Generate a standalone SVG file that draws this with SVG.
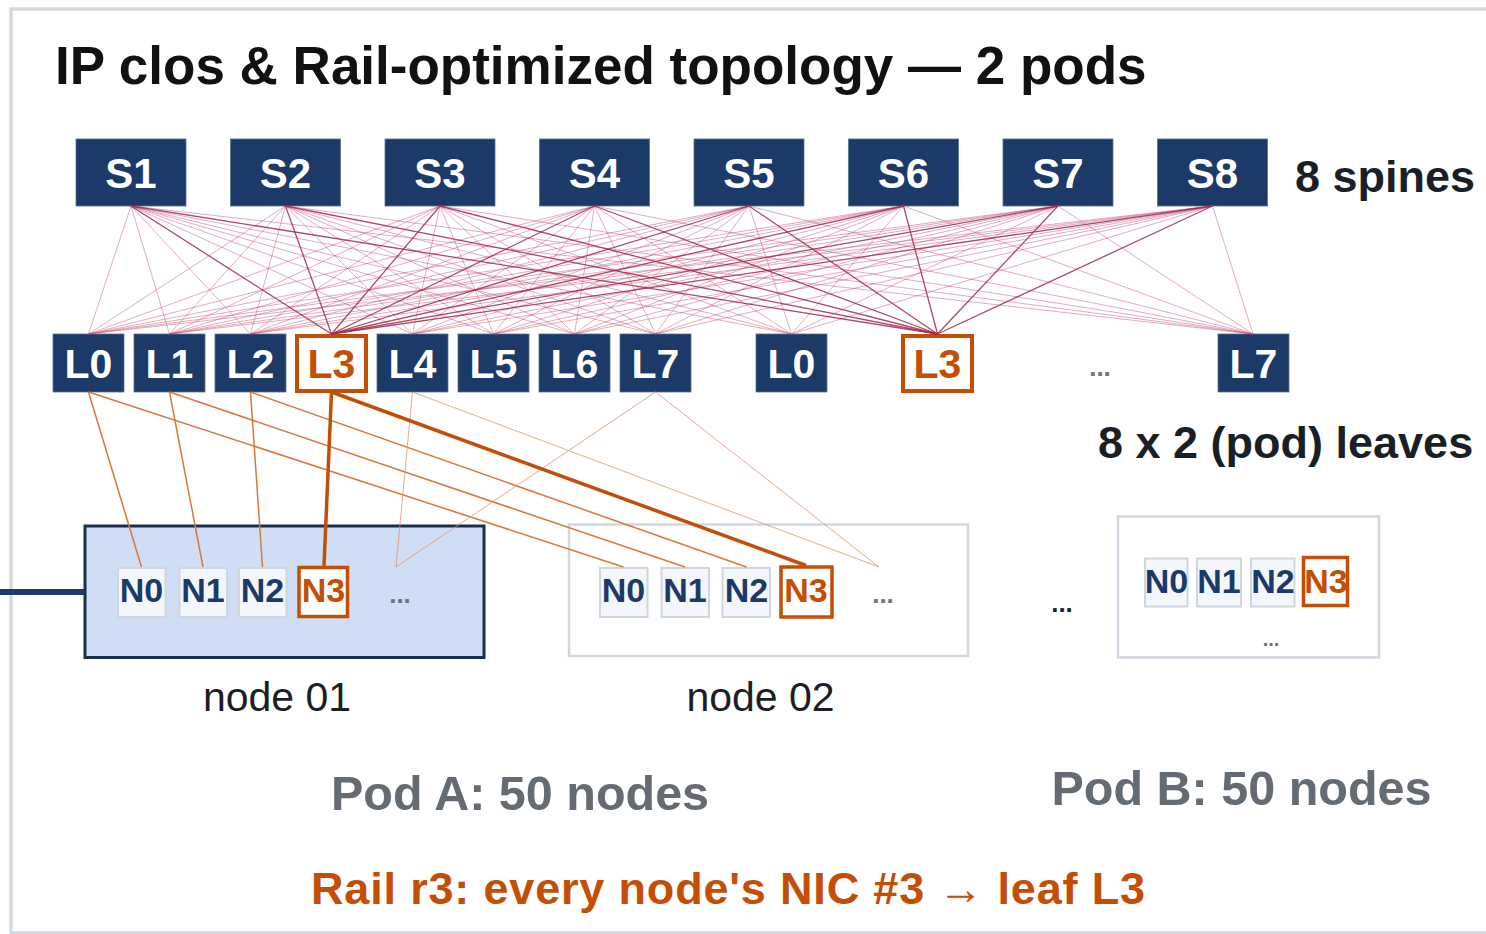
<svg xmlns="http://www.w3.org/2000/svg" width="1486" height="934" viewBox="0 0 1486 934">
<style>
text{font-family:"Liberation Sans",Arial,sans-serif}
.sp{fill:#1b3a68;stroke:#5a7090;stroke-width:0.8}
.sptx{fill:#ffffff;font-weight:bold;font-size:42px;text-anchor:middle}
.lf{fill:#1b3a68;stroke:#5a7090;stroke-width:0.8}
.lftx{fill:#ffffff;font-weight:bold;font-size:41px;text-anchor:middle}
.lf3{fill:#ffffff;stroke:#c44e05;stroke-width:4}
.lf3tx{fill:#c44e05;font-weight:bold;font-size:41px;text-anchor:middle}
.nic{fill:#f3f6fa;stroke:#d0d6de;stroke-width:2}
.nictx{fill:#1b3a68;font-weight:bold;font-size:34px;text-anchor:middle}
.nic3{fill:#ffffff;stroke:#c44e05;stroke-width:3.5}
.nic3tx{fill:#c44e05;font-weight:bold;font-size:34px;text-anchor:middle}
.sl{stroke:#c04868;stroke-width:1;stroke-opacity:0.45}
.sl3{stroke:#a02a4c;stroke-width:1.3;stroke-opacity:0.85}
.ln{stroke:#d9773a;stroke-width:1.5}
.ln3{stroke:#c44e05;stroke-width:3.5}
.lnl{stroke:#e2956a;stroke-width:1;stroke-opacity:0.8}
.dots{fill:#6b7280;font-weight:bold;font-size:26px;text-anchor:middle}
.big{fill:#1a1f26;font-weight:bold;font-size:45px}
.lbl{fill:#1a1f26;font-size:41px;text-anchor:middle}
.pod{fill:#646b73;font-weight:bold;font-size:48.5px;text-anchor:middle}
</style>
<rect x="11" y="9" width="1490" height="924" fill="#ffffff" stroke="#d3dae3" stroke-width="3.5"/>
<text x="55" y="84" font-size="53" font-weight="bold" fill="#111111">IP clos &amp; Rail-optimized topology — 2 pods</text>

<g id="spines">
<g id="S1"><rect class="sp" x="76" y="139" width="110" height="67"/><text class="sptx" x="131" y="188">S1</text></g>
<g id="S2"><rect class="sp" x="230.5" y="139" width="110" height="67"/><text class="sptx" x="285.5" y="188">S2</text></g>
<g id="S3"><rect class="sp" x="385" y="139" width="110" height="67"/><text class="sptx" x="440" y="188">S3</text></g>
<g id="S4"><rect class="sp" x="539.5" y="139" width="110" height="67"/><text class="sptx" x="594.5" y="188">S4</text></g>
<g id="S5"><rect class="sp" x="694" y="139" width="110" height="67"/><text class="sptx" x="749" y="188">S5</text></g>
<g id="S6"><rect class="sp" x="848.5" y="139" width="110" height="67"/><text class="sptx" x="903.5" y="188">S6</text></g>
<g id="S7"><rect class="sp" x="1003" y="139" width="110" height="67"/><text class="sptx" x="1058" y="188">S7</text></g>
<g id="S8"><rect class="sp" x="1157.5" y="139" width="110" height="67"/><text class="sptx" x="1212.5" y="188">S8</text></g>
</g>
<text class="big" x="1295" y="192">8 spines</text>

<g id="leaves">
<g id="A-L0"><rect class="lf" x="53" y="334" width="71" height="58"/><text class="lftx" x="88.5" y="378">L0</text></g>
<g id="A-L1"><rect class="lf" x="134" y="334" width="71" height="58"/><text class="lftx" x="169.5" y="378">L1</text></g>
<g id="A-L2"><rect class="lf" x="215" y="334" width="71" height="58"/><text class="lftx" x="250.5" y="378">L2</text></g>
<g id="A-L3"><rect class="lf3" x="297" y="336" width="69" height="55"/><text class="lf3tx" x="331.5" y="378">L3</text></g>
<g id="A-L4"><rect class="lf" x="377" y="334" width="71" height="58"/><text class="lftx" x="412.5" y="378">L4</text></g>
<g id="A-L5"><rect class="lf" x="458" y="334" width="71" height="58"/><text class="lftx" x="493.5" y="378">L5</text></g>
<g id="A-L6"><rect class="lf" x="539" y="334" width="71" height="58"/><text class="lftx" x="574.5" y="378">L6</text></g>
<g id="A-L7"><rect class="lf" x="620" y="334" width="71" height="58"/><text class="lftx" x="655.5" y="378">L7</text></g>
<g id="B-L0"><rect class="lf" x="756" y="334" width="71" height="58"/><text class="lftx" x="791.5" y="378">L0</text></g>
<g id="B-L3"><rect class="lf3" x="903" y="336" width="69" height="55"/><text class="lf3tx" x="937.5" y="378">L3</text></g>
<text class="dots" x="1100" y="376">...</text>
<g id="B-L7"><rect class="lf" x="1218" y="334" width="71" height="58"/><text class="lftx" x="1253.5" y="378">L7</text></g>
</g>
<text class="big" x="1098" y="458">8 x 2 (pod) leaves</text>

<g id="node01">
<rect x="85" y="526" width="399" height="131.5" fill="#cfddf5" stroke="#1a2f4f" stroke-width="3"/>
<rect class="nic" x="118" y="568" width="47.5" height="49"/><text class="nictx" x="141.5" y="602">N0</text>
<rect class="nic" x="179.5" y="568" width="47.5" height="49"/><text class="nictx" x="203" y="602">N1</text>
<rect class="nic" x="239" y="568" width="47.5" height="49"/><text class="nictx" x="262.5" y="602">N2</text>
<rect class="nic3" x="299" y="567.5" width="48.5" height="49"/><text class="nic3tx" x="323.5" y="602">N3</text>
<text class="dots" x="400" y="603">...</text>
</g>
<text class="lbl" x="277" y="711">node 01</text>

<g id="node02">
<rect x="569" y="524.5" width="399" height="131.5" fill="#ffffff" stroke="#d0d7e0" stroke-width="2.5"/>
<rect class="nic" x="600" y="568" width="47.5" height="49"/><text class="nictx" x="623.5" y="602">N0</text>
<rect class="nic" x="661.5" y="568" width="47.5" height="49"/><text class="nictx" x="685" y="602">N1</text>
<rect class="nic" x="722.5" y="568" width="47.5" height="49"/><text class="nictx" x="746.5" y="602">N2</text>
<rect class="nic3" x="781" y="567" width="51" height="50"/><text class="nic3tx" x="806" y="602">N3</text>
<text class="dots" x="883" y="603">...</text>
</g>
<text class="lbl" x="760.5" y="711">node 02</text>

<text class="dots" x="1062" y="612" fill="#1a1f26" style="fill:#1a1f26">...</text>

<g id="podB-node">
<rect x="1118" y="516.5" width="261" height="141" fill="#ffffff" stroke="#d0d7e0" stroke-width="2.5"/>
<rect class="nic" x="1145" y="558.5" width="42.5" height="48"/><text class="nictx" x="1166.5" y="593">N0</text>
<rect class="nic" x="1197" y="558.5" width="44" height="48"/><text class="nictx" x="1219" y="593">N1</text>
<rect class="nic" x="1251" y="558.5" width="43.5" height="48"/><text class="nictx" x="1273" y="593">N2</text>
<rect class="nic3" x="1303.5" y="557.5" width="44" height="48"/><text class="nic3tx" x="1326" y="593">N3</text>
<text class="dots" x="1271" y="646" style="font-size:20px">...</text>
</g>

<g id="connectors">
<g id="spine-leaf">
<line class="sl" x1="131" y1="206" x2="88.5" y2="334"/><line class="sl" x1="131" y1="206" x2="169.5" y2="334"/><line class="sl" x1="131" y1="206" x2="250.5" y2="334"/><line class="sl" x1="131" y1="206" x2="412.5" y2="334"/><line class="sl" x1="131" y1="206" x2="493.5" y2="334"/><line class="sl" x1="131" y1="206" x2="574.5" y2="334"/><line class="sl" x1="131" y1="206" x2="655.5" y2="334"/><line class="sl" x1="131" y1="206" x2="791.5" y2="334"/><line class="sl" x1="131" y1="206" x2="1253" y2="334"/>
<line class="sl" x1="285.5" y1="206" x2="88.5" y2="334"/><line class="sl" x1="285.5" y1="206" x2="169.5" y2="334"/><line class="sl" x1="285.5" y1="206" x2="250.5" y2="334"/><line class="sl" x1="285.5" y1="206" x2="412.5" y2="334"/><line class="sl" x1="285.5" y1="206" x2="493.5" y2="334"/><line class="sl" x1="285.5" y1="206" x2="574.5" y2="334"/><line class="sl" x1="285.5" y1="206" x2="655.5" y2="334"/><line class="sl" x1="285.5" y1="206" x2="791.5" y2="334"/><line class="sl" x1="285.5" y1="206" x2="1253" y2="334"/>
<line class="sl" x1="440" y1="206" x2="88.5" y2="334"/><line class="sl" x1="440" y1="206" x2="169.5" y2="334"/><line class="sl" x1="440" y1="206" x2="250.5" y2="334"/><line class="sl" x1="440" y1="206" x2="412.5" y2="334"/><line class="sl" x1="440" y1="206" x2="493.5" y2="334"/><line class="sl" x1="440" y1="206" x2="574.5" y2="334"/><line class="sl" x1="440" y1="206" x2="655.5" y2="334"/><line class="sl" x1="440" y1="206" x2="791.5" y2="334"/><line class="sl" x1="440" y1="206" x2="1253" y2="334"/>
<line class="sl" x1="594.5" y1="206" x2="88.5" y2="334"/><line class="sl" x1="594.5" y1="206" x2="169.5" y2="334"/><line class="sl" x1="594.5" y1="206" x2="250.5" y2="334"/><line class="sl" x1="594.5" y1="206" x2="412.5" y2="334"/><line class="sl" x1="594.5" y1="206" x2="493.5" y2="334"/><line class="sl" x1="594.5" y1="206" x2="574.5" y2="334"/><line class="sl" x1="594.5" y1="206" x2="655.5" y2="334"/><line class="sl" x1="594.5" y1="206" x2="791.5" y2="334"/><line class="sl" x1="594.5" y1="206" x2="1253" y2="334"/>
<line class="sl" x1="749" y1="206" x2="88.5" y2="334"/><line class="sl" x1="749" y1="206" x2="169.5" y2="334"/><line class="sl" x1="749" y1="206" x2="250.5" y2="334"/><line class="sl" x1="749" y1="206" x2="412.5" y2="334"/><line class="sl" x1="749" y1="206" x2="493.5" y2="334"/><line class="sl" x1="749" y1="206" x2="574.5" y2="334"/><line class="sl" x1="749" y1="206" x2="655.5" y2="334"/><line class="sl" x1="749" y1="206" x2="791.5" y2="334"/><line class="sl" x1="749" y1="206" x2="1253" y2="334"/>
<line class="sl" x1="903.5" y1="206" x2="88.5" y2="334"/><line class="sl" x1="903.5" y1="206" x2="169.5" y2="334"/><line class="sl" x1="903.5" y1="206" x2="250.5" y2="334"/><line class="sl" x1="903.5" y1="206" x2="412.5" y2="334"/><line class="sl" x1="903.5" y1="206" x2="493.5" y2="334"/><line class="sl" x1="903.5" y1="206" x2="574.5" y2="334"/><line class="sl" x1="903.5" y1="206" x2="655.5" y2="334"/><line class="sl" x1="903.5" y1="206" x2="791.5" y2="334"/><line class="sl" x1="903.5" y1="206" x2="1253" y2="334"/>
<line class="sl" x1="1058" y1="206" x2="88.5" y2="334"/><line class="sl" x1="1058" y1="206" x2="169.5" y2="334"/><line class="sl" x1="1058" y1="206" x2="250.5" y2="334"/><line class="sl" x1="1058" y1="206" x2="412.5" y2="334"/><line class="sl" x1="1058" y1="206" x2="493.5" y2="334"/><line class="sl" x1="1058" y1="206" x2="574.5" y2="334"/><line class="sl" x1="1058" y1="206" x2="655.5" y2="334"/><line class="sl" x1="1058" y1="206" x2="791.5" y2="334"/><line class="sl" x1="1058" y1="206" x2="1253" y2="334"/>
<line class="sl" x1="1212.5" y1="206" x2="88.5" y2="334"/><line class="sl" x1="1212.5" y1="206" x2="169.5" y2="334"/><line class="sl" x1="1212.5" y1="206" x2="250.5" y2="334"/><line class="sl" x1="1212.5" y1="206" x2="412.5" y2="334"/><line class="sl" x1="1212.5" y1="206" x2="493.5" y2="334"/><line class="sl" x1="1212.5" y1="206" x2="574.5" y2="334"/><line class="sl" x1="1212.5" y1="206" x2="655.5" y2="334"/><line class="sl" x1="1212.5" y1="206" x2="791.5" y2="334"/><line class="sl" x1="1212.5" y1="206" x2="1253" y2="334"/>
<line class="sl3" x1="131" y1="206" x2="331.5" y2="334"/><line class="sl3" x1="285.5" y1="206" x2="331.5" y2="334"/><line class="sl3" x1="440" y1="206" x2="331.5" y2="334"/><line class="sl3" x1="594.5" y1="206" x2="331.5" y2="334"/><line class="sl3" x1="749" y1="206" x2="331.5" y2="334"/><line class="sl3" x1="903.5" y1="206" x2="331.5" y2="334"/><line class="sl3" x1="1058" y1="206" x2="331.5" y2="334"/><line class="sl3" x1="1212.5" y1="206" x2="331.5" y2="334"/>
<line class="sl3" x1="131" y1="206" x2="937.5" y2="334"/><line class="sl3" x1="285.5" y1="206" x2="937.5" y2="334"/><line class="sl3" x1="440" y1="206" x2="937.5" y2="334"/><line class="sl3" x1="594.5" y1="206" x2="937.5" y2="334"/><line class="sl3" x1="749" y1="206" x2="937.5" y2="334"/><line class="sl3" x1="903.5" y1="206" x2="937.5" y2="334"/><line class="sl3" x1="1058" y1="206" x2="937.5" y2="334"/><line class="sl3" x1="1212.5" y1="206" x2="937.5" y2="334"/>
</g>
<g id="leaf-nic">
<line class="ln" x1="88.5" y1="392" x2="141.5" y2="567"/><line class="ln" x1="88.5" y1="392" x2="623.5" y2="567"/>
<line class="ln" x1="169.5" y1="392" x2="203" y2="567"/><line class="ln" x1="169.5" y1="392" x2="685" y2="567"/>
<line class="ln" x1="250.5" y1="392" x2="262.5" y2="567"/><line class="ln" x1="250.5" y1="392" x2="746.5" y2="567"/>
<line class="lnl" x1="412.5" y1="392" x2="396" y2="567"/><line class="lnl" x1="412.5" y1="392" x2="879" y2="567"/>
<line class="lnl" x1="655.5" y1="392" x2="396" y2="567"/><line class="lnl" x1="655.5" y1="392" x2="879" y2="567"/>
<line class="ln3" x1="331.5" y1="392" x2="324" y2="566"/><line class="ln3" x1="331.5" y1="392" x2="806" y2="565.5"/>
</g>
<line id="bus" x1="0" y1="592" x2="84" y2="592" stroke="#1b3a68" stroke-width="6"/>
</g>

<text class="pod" x="520" y="810">Pod A: 50 nodes</text>
<text class="pod" x="1241.5" y="805">Pod B: 50 nodes</text>
<text x="728" y="904" font-size="45" font-weight="bold" fill="#c44e05" text-anchor="middle" textLength="834" lengthAdjust="spacing">Rail r3: every node's NIC #3 → leaf L3</text>
</svg>
